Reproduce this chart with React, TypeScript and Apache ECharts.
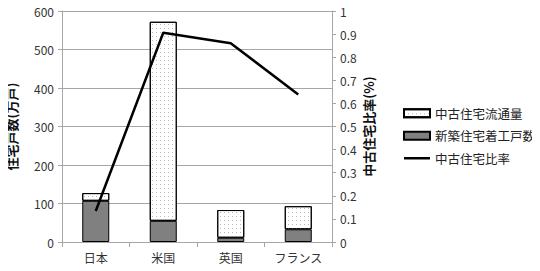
import React, { useEffect, useRef } from "react";
import * as echarts from "echarts";

const categories = ["日本", "米国", "英国", "フランス"];
const newBuild = [107, 55, 11, 33];
const usedFlow = [20, 517, 72, 60];
const usedRatio = [0.134, 0.906, 0.86, 0.639];
const leftTicks = { min: 0, max: 600, interval: 100 };
const rightTicks = { min: 0, max: 1, interval: 0.1 };

const FONT = "'Noto Sans CJK JP', sans-serif";

export default function App() {
  const ref = useRef<HTMLDivElement>(null);
  useEffect(() => {
    if (!ref.current) return;
    const chart = echarts.init(ref.current, null, { renderer: "svg" });
    chart.setOption({
      animation: false,
      backgroundColor: "#ffffff",
      textStyle: { fontFamily: FONT },
      grid: { left: 62, right: 208, top: 11, bottom: 29 },
      legend: {
        orient: "vertical",
        left: 398,
        top: 102,
        itemWidth: 26,
        itemHeight: 8,
        itemGap: 10,
        textStyle: { fontFamily: FONT, fontSize: 12.5, color: "#222" },
        data: [
          { name: "中古住宅流通量", icon: "rect" },
          { name: "新築住宅着工戸数", icon: "rect" },
          { name: "中古住宅比率", icon: "path://M0,0 L26,0 L26,2.5 L0,2.5 Z", itemStyle: { color: "#000", borderWidth: 0 } },
        ],
      },
      xAxis: {
        type: "category",
        data: categories,
        axisLine: { lineStyle: { color: "#a6a6a6" } },
        axisTick: { show: true, length: 5, lineStyle: { color: "#a6a6a6" } },
        axisLabel: { fontFamily: FONT, fontSize: 12, color: "#333", margin: 9 },
      },
      yAxis: [
        {
          type: "value",
          ...leftTicks,
          name: "住宅戸数(万戸)",
          nameLocation: "middle",
          nameRotate: 90,
          nameGap: 44,
          nameTextStyle: { fontFamily: FONT, fontSize: 13, fontWeight: "bold", color: "#111" },
          axisLine: { show: true, lineStyle: { color: "#a6a6a6" } },
          axisTick: { show: true, length: 4, lineStyle: { color: "#a6a6a6" } },
          axisLabel: { fontFamily: FONT, fontSize: 12, color: "#333", margin: 8 },
          splitLine: { lineStyle: { color: "#a6a6a6" } },
        },
        {
          type: "value",
          ...rightTicks,
          position: "right",
          name: "中古住宅比率(%)",
          nameLocation: "middle",
          nameRotate: 90,
          nameGap: 30,
          nameTextStyle: { fontFamily: FONT, fontSize: 13, fontWeight: "bold", color: "#111" },
          axisLine: { show: true, lineStyle: { color: "#a6a6a6" } },
          axisTick: { show: true, length: 4, lineStyle: { color: "#a6a6a6" } },
          axisLabel: { fontFamily: FONT, fontSize: 12, color: "#333", margin: 8 },
          splitLine: { show: false },
        },
      ],
      series: [
        {
          name: "新築住宅着工戸数",
          type: "bar",
          stack: "houses",
          barWidth: "40%",
          data: newBuild,
          itemStyle: { color: "#808080", borderColor: "#000", borderWidth: 1 },
        },
        {
          name: "中古住宅流通量",
          type: "bar",
          stack: "houses",
          barWidth: "40%",
          data: usedFlow,
          itemStyle: {
            color: "#ffffff",
            borderColor: "#000",
            borderWidth: 1,
            decal: {
              symbol: "rect",
              symbolSize: 1,
              dashArrayX: [1, 3],
              dashArrayY: [1, 3],
              color: "#b8b8b8",
            },
          },
        },
        {
          name: "中古住宅比率",
          type: "line",
          yAxisIndex: 1,
          data: usedRatio,
          symbol: "none",
          showSymbol: false,
          lineStyle: { color: "#000", width: 2.5 },
          itemStyle: { color: "#000" },
        },
      ],
    });
    return () => chart.dispose();
  }, []);
  return <div ref={ref} style={{ width: 540, height: 271, marginLeft: -8, marginTop: -8 }} />;
}
